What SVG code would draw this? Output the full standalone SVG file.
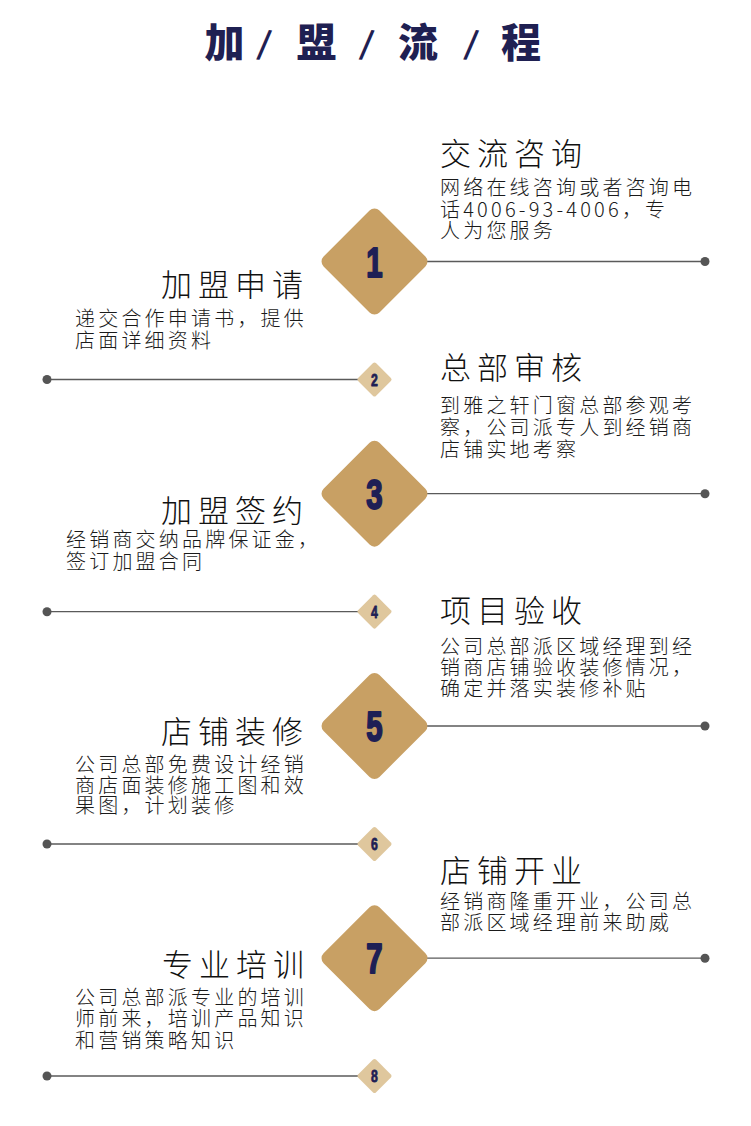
<svg xmlns="http://www.w3.org/2000/svg" width="751" height="1126" viewBox="0 0 751 1126">
<style>
.hd{font-family:"Noto Sans CJK SC","Noto Sans CJK JP",sans-serif;font-weight:900;font-size:40px;fill:#1f2052;text-anchor:middle}
.sl{font-family:"Liberation Sans",sans-serif;font-weight:400;font-size:42px;fill:#1f2052;text-anchor:middle}
.tt{font-family:"Noto Sans CJK SC","Noto Sans CJK JP",sans-serif;font-weight:300;font-size:31px;letter-spacing:6px;fill:#111}
.ds{font-family:"Noto Sans CJK SC","Noto Sans CJK JP",sans-serif;font-weight:300;font-size:20px;letter-spacing:3.2px;fill:#1a1a1a}
.end{text-anchor:end}
.big{fill:#c8a064}
.sm{fill:#dfc79d}
.nb{font-family:"Liberation Sans",sans-serif;font-weight:700;font-size:42px;fill:#1e1f55;stroke:#1e1f55;stroke-width:2;stroke-linejoin:round;text-anchor:middle}
.ns{font-family:"Liberation Sans",sans-serif;font-weight:700;font-size:17px;fill:#1e1f55;stroke:#1e1f55;stroke-width:0.8;stroke-linejoin:round;text-anchor:middle}
.ln{stroke:#5a5a5a;stroke-width:1.3;fill:none}
.dt{fill:#555}
</style>
<defs>
<rect id="bd" x="-39.5" y="-39.5" width="79" height="79" rx="7" transform="rotate(45)"/>
<rect id="sd" x="-12.6" y="-12.6" width="25.2" height="25.2" rx="2" transform="rotate(45)"/>
</defs>
<rect width="751" height="1126" fill="#fff"/>
<g id="heading">
<text class="hd" x="224.5" y="57">加</text>
<text class="sl" x="264" y="60" transform="rotate(8 264 45)">/</text>
<text class="hd" x="316.5" y="57">盟</text>
<text class="sl" x="366.5" y="60" transform="rotate(8 366.5 45)">/</text>
<text class="hd" x="418" y="57">流</text>
<text class="sl" x="471" y="60" transform="rotate(8 471 45)">/</text>
<text class="hd" x="521" y="57">程</text>
</g>
<g id="connectors">
<line class="ln" x1="386" y1="261.5" x2="705" y2="261.5"/><circle class="dt" cx="705" cy="261.5" r="4.5"/>
<line class="ln" x1="47" y1="379.5" x2="366" y2="379.5"/><circle class="dt" cx="47" cy="379.5" r="4.5"/>
<line class="ln" x1="386" y1="493.7" x2="705" y2="493.7"/><circle class="dt" cx="705" cy="493.7" r="4.5"/>
<line class="ln" x1="47" y1="611.7" x2="366" y2="611.7"/><circle class="dt" cx="47" cy="611.7" r="4.5"/>
<line class="ln" x1="386" y1="726" x2="705" y2="726"/><circle class="dt" cx="705" cy="726" r="4.5"/>
<line class="ln" x1="47" y1="844" x2="366" y2="844"/><circle class="dt" cx="47" cy="844" r="4.5"/>
<line class="ln" x1="386" y1="958.2" x2="705" y2="958.2"/><circle class="dt" cx="705" cy="958.2" r="4.5"/>
<line class="ln" x1="47" y1="1076" x2="366" y2="1076"/><circle class="dt" cx="47" cy="1076" r="4.5"/>
</g>
<g id="step1">
<use href="#bd" class="big" x="374.5" y="261.5"/>
<text class="nb" transform="matrix(0.7 0 0 1 374.5 276.5)">1</text>
<text class="tt" x="440" y="165">交流咨询</text>
<text class="ds"><tspan x="440" y="195">网络在线咨询或者咨询电</tspan><tspan x="440" y="216.5">话4006-93-4006，专</tspan><tspan x="440" y="238">人为您服务</tspan></text>
</g>
<g id="step2">
<use href="#sd" class="sm" x="374.5" y="379.5"/>
<text class="ns" transform="matrix(0.72 0 0 1 374.5 385.7)">2</text>
<text class="tt end" x="309" y="295.5">加盟申请</text>
<text class="ds"><tspan x="75" y="326">递交合作申请书，提供</tspan><tspan x="75" y="347.5">店面详细资料</tspan></text>
</g>
<g id="step3">
<use href="#bd" class="big" x="374.5" y="493.7"/>
<text class="nb" transform="matrix(0.7 0 0 1 374.5 508.7)">3</text>
<text class="tt" x="440" y="378.5">总部审核</text>
<text class="ds"><tspan x="440" y="412.6">到雅之轩门窗总部参观考</tspan><tspan x="440" y="434.8">察，公司派专人到经销商</tspan><tspan x="440" y="456.6">店铺实地考察</tspan></text>
</g>
<g id="step4">
<use href="#sd" class="sm" x="374.5" y="611.7"/>
<text class="ns" transform="matrix(0.72 0 0 1 374.5 617.9)">4</text>
<text class="tt end" x="309" y="522">加盟签约</text>
<text class="ds"><tspan x="66" y="547">经销商交纳品牌保证金，</tspan><tspan x="66" y="568.5">签订加盟合同</tspan></text>
</g>
<g id="step5">
<use href="#bd" class="big" x="374.5" y="726"/>
<text class="nb" transform="matrix(0.7 0 0 1 374.5 741)">5</text>
<text class="tt" x="440" y="622">项目验收</text>
<text class="ds"><tspan x="440" y="654">公司总部派区域经理到经</tspan><tspan x="440" y="675">销商店铺验收装修情况，</tspan><tspan x="440" y="696">确定并落实装修补贴</tspan></text>
</g>
<g id="step6">
<use href="#sd" class="sm" x="374.5" y="844"/>
<text class="ns" transform="matrix(0.72 0 0 1 374.5 850.2)">6</text>
<text class="tt end" x="309" y="742.6">店铺装修</text>
<text class="ds"><tspan x="75" y="772">公司总部免费设计经销</tspan><tspan x="75" y="792.6">商店面装修施工图和效</tspan><tspan x="75" y="813">果图，计划装修</tspan></text>
</g>
<g id="step7">
<use href="#bd" class="big" x="374.5" y="958.2"/>
<text class="nb" transform="matrix(0.7 0 0 1 374.5 973.2)">7</text>
<text class="tt" x="440" y="882">店铺开业</text>
<text class="ds"><tspan x="440" y="909.3">经销商隆重开业，公司总</tspan><tspan x="440" y="930">部派区域经理前来助威</tspan></text>
</g>
<g id="step8">
<use href="#sd" class="sm" x="374.5" y="1076"/>
<text class="ns" transform="matrix(0.72 0 0 1 374.5 1082.2)">8</text>
<text class="tt end" x="310" y="976">专业培训</text>
<text class="ds"><tspan x="75" y="1005">公司总部派专业的培训</tspan><tspan x="75" y="1026">师前来，培训产品知识</tspan><tspan x="75" y="1048">和营销策略知识</tspan></text>
</g>
</svg>
